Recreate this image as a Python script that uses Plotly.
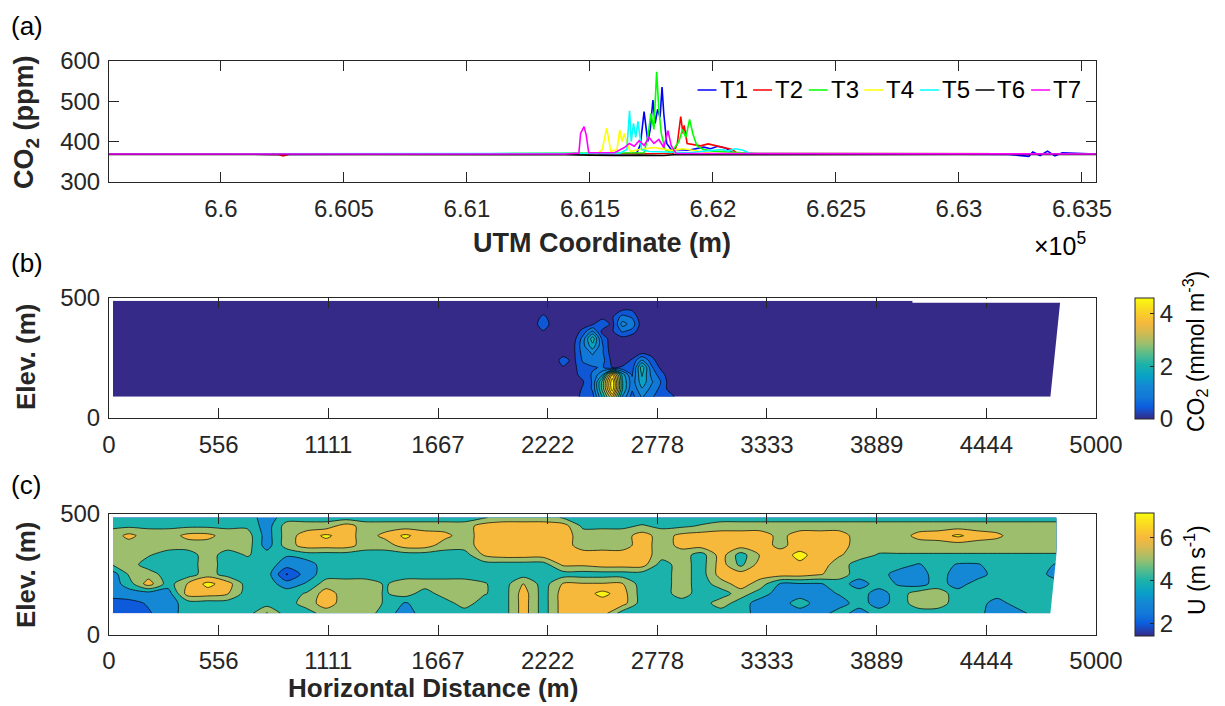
import numpy as np
import plotly.graph_objects as go

# ---------------- Panel (a): CO2 along seven transects ----------------
utm_tickvals = [660000, 660500, 661000, 661500, 662000, 662500, 663000, 663500]
utm_ticktext = ["6.6", "6.605", "6.61", "6.615", "6.62", "6.625", "6.63", "6.635"]
ppm_tickvals = [300, 400, 500, 600]

t1_utm = [659545, 660200, 661000, 661600, 661690, 661705, 661720, 661735, 661745, 661756, 661765,
          661775, 661785, 661793, 661800, 661812, 661830, 661900, 661963, 661990, 662020, 662050,
          662080, 662200, 662800, 663200, 663284, 663300, 663330, 663360, 663390, 663420, 663557]
t1_ppm = [369, 368, 369, 369, 371, 392, 474, 400, 430, 503, 445,
          480, 460, 535, 470, 395, 380, 378, 386, 382, 388, 384,
          372, 369, 369, 368, 363, 374, 365, 376, 364, 372, 369]

t2_utm = [659545, 660230, 660253, 660280, 661000, 661840, 661855, 661869, 661878, 661883, 661895,
          661920, 661950, 661980, 662010, 662040, 662078, 662100, 663557]
t2_ppm = [369, 368, 364, 369, 369, 370, 395, 462, 420, 440, 395,
          392, 389, 394, 390, 386, 380, 370, 369]

t3_utm = [659545, 661000, 661720, 661735, 661748, 661760, 661771, 661780, 661790, 661805, 661830,
          661862, 661876, 661890, 661905, 661918, 661934, 661960, 662000, 662100, 662200, 663557]
t3_ppm = [369, 369, 372, 410, 470, 430, 573, 480, 420, 380, 372,
          400, 430, 410, 455, 420, 390, 380, 376, 372, 369, 369]

t4_utm = [659545, 661000, 661530, 661550, 661568, 661585, 661610, 661621, 661630, 661640, 661650,
          661665, 661700, 661760, 661830, 661880, 661950, 662000, 663557]
t4_ppm = [369, 369, 369, 380, 433, 375, 380, 429, 400, 420, 395,
          375, 380, 385, 378, 382, 376, 370, 369]

t5_utm = [659545, 661000, 661620, 661650, 661661, 661668, 661677, 661686, 661695, 661710, 661740,
          661900, 662036, 662060, 662090, 662123, 662150, 663557]
t5_ppm = [369, 369, 370, 380, 476, 400, 445, 410, 450, 380, 375,
          372, 380, 376, 382, 378, 370, 369]

t6_utm = [659545, 660500, 661400, 661500, 661600, 661700, 661800, 661840, 662500, 663557]
t6_ppm = [368, 368, 367, 366, 365, 366, 365, 367, 367, 368]

t7_utm = [659545, 661400, 661455, 661462, 661476, 661485, 661495, 661600, 661640, 661660, 661680,
          661700, 661720, 661740, 661760, 661780, 661800, 661817, 661830, 661850, 663557]
t7_ppm = [369, 369, 371, 420, 437, 415, 372, 372, 385, 395, 388,
          402, 390, 410, 395, 405, 385, 427, 390, 370, 369]

transect_names = ["T1", "T2", "T3", "T4", "T5", "T6", "T7"]
transect_colors = ["#0000ff", "#ff0000", "#00ff00", "#ffff00", "#00ffff", "#000000", "#ff00ff"]

# ---------------- Panel (b): CO2 section (mmol m-3) ----------------
dist_tickvals = [0, 555.6, 1111.1, 1666.7, 2222.2, 2777.8, 3333.3, 3888.9, 4444.4, 5000]
dist_ticktext = ["0", "556", "1111", "1667", "2222", "2778", "3333", "3889", "4444", "5000"]

b_elev = [88, 120, 150, 180, 210, 240, 270, 300, 330, 360, 390, 420, 450, 487]
b_dist_left = [20, 500, 1000, 1500, 2000, 2050]
b_dist_win = [2100, 2150, 2200, 2250, 2300, 2350, 2400, 2450, 2500, 2550, 2600, 2650, 2700,
              2750, 2800, 2850, 2900]
b_dist_right = [2950, 3000, 3500, 4000, 4500, 4820]
co2_088 = [0, 0, 0, 0, 0, 0.1, 0.5, 0.6, 2.0, 3.6, 1.5, 0.6, 1.2, 0.8, 0.5, 0.5, 0]
co2_120 = [0, 0, 0, 0, 0, 0.1, 0.4, 0.8, 2.5, 4.6, 2.0, 0.8, 1.5, 1.0, 0.6, 0.1, 0]
co2_150 = [0, 0, 0, 0, 0, 0.1, 0.3, 0.8, 2.5, 4.7, 2.0, 0.9, 1.8, 1.2, 0.7, 0, 0]
co2_180 = [0, 0, 0, 0, 0.1, 0.2, 0.5, 0.8, 1.5, 4.0, 1.8, 0.7, 2.0, 1.0, 0.5, 0, 0]
co2_210 = [0, 0, 0, 0, 0.3, 0.2, 0.6, 0.7, 0.8, 0.3, 0.4, 0.5, 2.2, 0.8, 0.2, 0, 0]
co2_240 = [0, 0, 0, 0, 0.6, 0.2, 0.8, 1.0, 0.9, 0.2, 0.1, 0.4, 1.2, 0.5, 0, 0, 0]
co2_270 = [0, 0, 0, 0, 0.1, 0.2, 0.9, 1.2, 0.8, 0.1, 0, 0.1, 0.3, 0.2, 0, 0, 0]
co2_300 = [0, 0, 0, 0, 0, 0.2, 1.0, 1.8, 0.8, 0, 0, 0, 0, 0, 0, 0, 0]
co2_330 = [0, 0, 0, 0, 0, 0.1, 0.9, 2.2, 0.6, 0.1, 0.2, 0, 0, 0, 0, 0, 0]
co2_360 = [0, 0, 0.3, 0, 0, 0, 0.5, 1.2, 0.2, 0.3, 0.8, 0.6, 0, 0, 0, 0, 0]
co2_390 = [0, 0.1, 0.7, 0.1, 0, 0, 0.1, 0.3, 0.7, 0.2, 1.3, 1.0, 0.1, 0, 0, 0, 0]
co2_420 = [0, 0, 0.5, 0, 0, 0, 0, 0, 0.2, 0.3, 0.9, 0.7, 0, 0, 0, 0, 0]
co2_450 = [0, 0, 0, 0, 0, 0, 0, 0, 0, 0, 0.3, 0.3, 0, 0, 0, 0, 0]
co2_487 = [0, 0, 0, 0, 0, 0, 0, 0, 0, 0, 0, 0, 0, 0, 0, 0, 0]
co2_rows = [co2_088, co2_120, co2_150, co2_180, co2_210, co2_240, co2_270,
            co2_300, co2_330, co2_360, co2_390, co2_420, co2_450, co2_487]
co2_cbar_ticks = [0, 2, 4]

# ---------------- Panel (c): wind speed section (m s-1) ----------------
c_elev = [88, 130, 170, 210, 250, 290, 330, 370, 410, 450, 485]
c_dist = [20] + list(range(100, 4801, 100))
u_088 = [2, 2, 2.4, 3, 4, 4, 4, 4, 5.6, 4, 4, 5, 5, 5, 4, 3, 4, 4, 4, 4,
         4, 6, 4, 6, 6, 6, 4, 4, 4, 4, 4, 4, 4, 3, 3, 3, 3, 4, 3, 4,
         4, 4, 4, 4, 4, 2.6, 3, 4, 4]
u_130 = [2, 2.2, 2.6, 3, 4, 4, 4, 4, 4, 4, 5, 6, 5, 5, 4.4, 3.4, 4, 4, 5, 4,
         4, 6, 4, 6, 6, 6, 6, 4, 4, 4, 4, 5, 4, 3, 3, 4, 3, 3, 4, 3,
         4, 5, 5, 4, 4, 3, 4, 4, 4]
u_170 = [3, 3, 3, 3, 6, 6, 5.6, 4, 4, 4, 4.6, 6, 5, 5, 4.4, 5, 4, 5, 5, 4.6,
         4, 6, 4, 6, 6, 6.8, 6, 4, 4, 5, 4, 4, 5, 4, 3, 3, 3, 3.6, 4, 3,
         4, 5, 5, 4, 4, 4, 4, 4, 4]
u_210 = [3, 4, 6, 4, 5.6, 6.8, 6, 4, 4, 3, 3.6, 5, 5, 5, 4.4, 5, 5, 5, 5, 4.6,
         4, 5.6, 4, 5.6, 5.6, 5.6, 5.6, 4, 4, 5, 4, 5, 6, 5, 3.4, 3.4, 3.4, 4, 3, 4,
         3.4, 3, 4, 3, 4, 4, 4, 4, 4]
u_250 = [3, 4.6, 5, 4, 4, 5, 4, 4, 4, 1.4, 3, 4, 4, 4, 4, 4, 4, 4, 4, 4,
         4, 4, 4, 4, 4, 4, 4, 4, 4, 5, 4, 6, 6, 6, 6, 6, 5.6, 5, 4, 4,
         3, 3, 4, 3, 3, 4, 4, 4, 3]
u_290 = [4.6, 5, 4, 4, 4, 5, 4, 4, 4, 3, 3, 4, 4, 4, 4, 4, 4, 4, 4, 4,
         4, 4, 4, 5.7, 5.7, 6, 6, 6, 4, 5, 4, 6, 4.2, 6, 6, 6.3, 6, 5, 4, 4,
         4, 3.4, 4, 3.4, 3.4, 4, 4, 4, 3.4]
u_330 = [5, 5, 4.6, 4, 4, 5, 4, 4.6, 4, 3.6, 4, 4, 4, 4, 4, 4, 4, 4, 4, 5.6,
         6, 6, 6, 6, 6, 6, 6, 6, 5, 5, 4, 6, 4, 5.6, 6, 6.8, 6, 5.6, 5, 4.4,
         4.4, 4.4, 4.4, 4.4, 4.4, 4.4, 4.4, 4.4, 4.4]
u_370 = [5, 5, 5, 5, 5, 5, 5, 5, 3, 5, 6, 6, 6, 5, 5, 6, 6, 5, 5, 6,
         6, 6, 6, 6, 5, 5, 5, 6, 5, 5.8, 6, 6, 6, 6, 5.2, 6, 6, 6, 5, 5,
         5, 5, 5, 5, 5, 5, 5, 5, 5]
u_410 = [5, 5.8, 5, 5, 5.8, 5.8, 5, 5, 3, 5, 6, 6.7, 6, 5, 5.8, 6.7, 6, 5.8, 5, 6,
         6, 6, 6, 6, 5, 5, 5, 6, 5, 5.8, 6, 6, 6, 6, 5.2, 6, 6, 6, 5, 5,
         5, 5.8, 6, 6.7, 6, 5.7, 5, 5, 5]
u_450 = [4.3, 4.3, 4.3, 4.3, 4.3, 4.3, 4.3, 4.3, 3, 5, 5, 5, 6, 5, 5, 5, 5, 5, 5, 6,
         6, 6, 6, 6, 4.3, 4.3, 4.3, 4.6, 4.3, 4.3, 4.6, 5, 5, 5, 5, 5, 5, 5, 5, 5,
         5, 5, 5, 5, 5, 5, 5, 5, 5]
u_485 = [4, 4, 4, 4, 4, 4, 4, 4, 3, 4, 4, 4, 4, 4, 4, 4, 4, 4, 4, 4.4,
         5, 5, 5, 4.4, 4, 4, 4, 4, 4, 4, 4, 4, 4, 4, 4, 4, 4, 4, 4, 4,
         4, 4, 4, 4, 4, 4, 4, 4, 4]
u_rows = [u_088, u_130, u_170, u_210, u_250, u_290, u_330, u_370, u_410, u_450, u_485]
u_cbar_ticks = [2, 4, 6]

# ---------------- styling helpers ----------------
PARULA = [(0.00, (53, 42, 135)), (0.10, (12, 92, 222)), (0.18, (18, 120, 216)),
          (0.27, (20, 135, 212)), (0.35, (8, 160, 200)), (0.45, (27, 178, 170)),
          (0.55, (95, 189, 135)), (0.62, (155, 191, 110)), (0.72, (215, 186, 80)),
          (0.80, (247, 185, 60)), (0.90, (250, 215, 35)), (1.00, (249, 251, 14))]


def parula_at(p):
    p = min(max(p, 0.0), 1.0)
    for (p0, c0), (p1, c1) in zip(PARULA[:-1], PARULA[1:]):
        if p0 <= p <= p1:
            f = (p - p0) / (p1 - p0)
            c = [round(a + (b - a) * f) for a, b in zip(c0, c1)]
            return "rgb(%d,%d,%d)" % tuple(c)
    return "rgb(%d,%d,%d)" % PARULA[-1][1]


parula_scale = [[p, "rgb(%d,%d,%d)" % c] for p, c in PARULA]

# The page body adds an 8 px offset, so the figure is 8 px smaller and all
# reference pixel positions are shifted by 8 px.
OFF = 8
W, H = 1225 - OFF, 706 - OFF
FONT = "Liberation Sans, Arial, Helvetica, sans-serif"
AX = "#262626"
TICK = 24


def px_x(x):
    return (x - OFF) / W


def px_y(y):
    return 1 - (y - OFF) / H


x_dom = [px_x(109), px_x(1096)]
ya_dom = [px_y(181.7), px_y(61)]
yb_dom = [px_y(418), px_y(297.7)]
yc_dom = [px_y(634.5), px_y(514)]

fig = go.Figure()

# Panel (a) lines
series = [(t1_utm, t1_ppm), (t2_utm, t2_ppm), (t3_utm, t3_ppm), (t4_utm, t4_ppm),
          (t5_utm, t5_ppm), (t6_utm, t6_ppm), (t7_utm, t7_ppm)]
for (xs, ys), name, col in zip(series, transect_names, transect_colors):
    fig.add_trace(go.Scatter(x=xs, y=ys, mode="lines", name=name,
                             line=dict(color=col, width=1.6),
                             xaxis="x", yaxis="y", hoverinfo="skip", showlegend=False))

# Panel (b) contour
b_dist = b_dist_left + b_dist_win + b_dist_right
z_b = [[0] * len(b_dist_left) + row + [0] * len(b_dist_right) for row in co2_rows]
fig.add_trace(go.Contour(x=b_dist, y=b_elev, z=z_b, xaxis="x2", yaxis="y2",
                         autocontour=False,
                         contours=dict(start=0.35, end=4.35, size=0.4, coloring="fill",
                                       showlines=True),
                         line=dict(color="black", width=0.7, smoothing=0.8),
                         colorscale=parula_scale, showscale=False, hoverinfo="skip",
                         showlegend=False))

# Panel (c) contour with band colours sampled from the parula bar (range 1.45-7.15)
u_min, u_max = 1.45, 7.15
band_vals = [1.2, 2.0, 3.0, 4.0, 5.0, 6.0, 7.0]
c_scale = [[i / 6, parula_at((v - u_min) / (u_max - u_min))] for i, v in enumerate(band_vals)]
fig.add_trace(go.Contour(x=c_dist, y=c_elev, z=u_rows, xaxis="x3", yaxis="y3",
                         autocontour=False,
                         contours=dict(start=1.5, end=6.5, size=1.0, coloring="fill",
                                       showlines=True),
                         line=dict(color="black", width=0.7, smoothing=0.8),
                         colorscale=c_scale, showscale=False, hoverinfo="skip",
                         showlegend=False))


# Continuous colorbars (as in the original figure)
def cbar(cmin, cmax, ticks, ytop, ybot, xa, ya, yhide):
    return go.Scatter(x=[2500], y=[yhide], mode="markers", xaxis=xa, yaxis=ya,
                      showlegend=False, hoverinfo="skip",
                      marker=dict(size=1, opacity=0, color=[cmin], cmin=cmin, cmax=cmax,
                                  colorscale=parula_scale, showscale=True,
                                  colorbar=dict(x=px_x(1135), xanchor="left", xpad=0,
                                                y=px_y((ytop + ybot) / 2), yanchor="middle",
                                                len=(ybot - ytop) / H, lenmode="fraction",
                                                ypad=0, thickness=19, thicknessmode="pixels",
                                                outlinewidth=1, outlinecolor=AX,
                                                ticks="inside", ticklen=4, tickcolor=AX,
                                                tickvals=ticks,
                                                tickfont=dict(size=TICK, color=AX, family=FONT))))


fig.add_trace(cbar(0, 4.6, co2_cbar_ticks, 297.7, 419, "x2", "y2", -100))
fig.add_trace(cbar(u_min, u_max, u_cbar_ticks, 513, 635.7, "x3", "y3", -100))

axis_common = dict(showline=True, linecolor=AX, linewidth=1, mirror="ticks",
                   ticks="inside", ticklen=10, tickcolor=AX, showgrid=False, zeroline=False,
                   automargin=False,
                   tickfont=dict(size=TICK, color=AX, family=FONT))

fig.update_layout(
    template="none",
    width=W, height=H, margin=dict(l=0, r=0, t=0, b=0, autoexpand=False),
    paper_bgcolor="white", plot_bgcolor="white",
    font=dict(family=FONT, color=AX),
    xaxis=dict(domain=x_dom, range=[659545, 663557], tickvals=utm_tickvals,
               ticktext=utm_ticktext, anchor="y", ticklabelstandoff=5, **axis_common),
    yaxis=dict(domain=ya_dom, range=[300, 600], tickvals=ppm_tickvals, anchor="x",
               ticklabelstandoff=3, **axis_common),
    xaxis2=dict(domain=x_dom, range=[0, 5000], tickvals=dist_tickvals, ticktext=dist_ticktext,
                anchor="y2", ticklabelstandoff=5, **axis_common),
    yaxis2=dict(domain=yb_dom, range=[0, 500], tickvals=[0, 500], anchor="x2",
                ticklabelstandoff=3, **axis_common),
    xaxis3=dict(domain=x_dom, range=[0, 5000], tickvals=dist_tickvals, ticktext=dist_ticktext,
                anchor="y3", ticklabelstandoff=5, **axis_common),
    yaxis3=dict(domain=yc_dom, range=[0, 500], tickvals=[0, 500], anchor="x3",
                ticklabelstandoff=3, **axis_common),
    showlegend=False,
)

# white masks for the irregular right edge of the sampled sections
for xr, yr in (("x2", "y2"), ("x3", "y3")):
    fig.add_shape(type="path", xref=xr, yref=yr, layer="above",
                  path="M 4768 80 L 4840 80 L 4840 495 L 4820 495 Z",
                  fillcolor="white", line=dict(width=0))
fig.add_shape(type="rect", xref="x2", yref="y2", layer="above", x0=4070, x1=4840, y0=479,
              y1=495, fillcolor="white", line=dict(width=0))

# MATLAB-style legend inside panel (a): short line sample followed by the name
leg_x0, leg_pitch, leg_y = 697.5, 55.6, 90
for i, (name, col) in enumerate(zip(transect_names, transect_colors)):
    lx = leg_x0 + i * leg_pitch
    fig.add_shape(type="line", xref="paper", yref="paper", x0=px_x(lx), x1=px_x(lx + 19),
                  y0=px_y(leg_y), y1=px_y(leg_y), line=dict(color=col, width=1.5))
    fig.add_annotation(text=name, x=px_x(lx + 20), y=px_y(leg_y), xref="paper", yref="paper",
                       showarrow=False, xanchor="left", yanchor="middle",
                       font=dict(size=24, color="black", family=FONT))


def ann(text, x, y, size, bold=False, angle=0, xanchor="center", yanchor="middle"):
    if bold:
        text = "<b>" + text + "</b>"
    fig.add_annotation(text=text, x=px_x(x), y=px_y(y), xref="paper", yref="paper",
                       showarrow=False, textangle=angle, xanchor=xanchor, yanchor=yanchor,
                       font=dict(size=size, color=AX if bold else "black", family=FONT))


ann("(a)", 9, 9, 26, xanchor="left", yanchor="top")
ann("(b)", 9, 263, 26, xanchor="left")
ann("(c)", 9, 485, 26, xanchor="left")
ann("CO<sub>2</sub> (ppm)", 26, 122, 27, bold=True, angle=-90)
ann("Elev. (m)", 26, 357, 26, bold=True, angle=-90)
ann("Elev. (m)", 26, 575, 26, bold=True, angle=-90)
ann("UTM Coordinate (m)", 602, 243, 27, bold=True)
ann("Horizontal Distance (m)", 433, 688, 26, bold=True)
ann("\u00d710<sup>5</sup>", 1060, 244, 25)
ann("CO<sub>2</sub> (mmol m<sup>-3</sup>)", 1195, 352, 23, angle=-90)
ann("U (m s<sup>-1</sup>)", 1195, 570, 23, angle=-90)

fig.write_html("out.html")
